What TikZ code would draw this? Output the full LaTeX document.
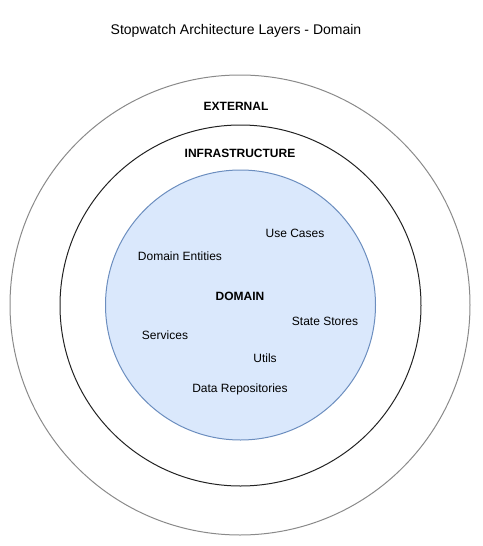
\documentclass[tikz,border=0pt]{standalone}
\usepackage{fontspec}
\setmainfont{Liberation Sans}
\definecolor{outerc}{HTML}{8A8A8A}
\definecolor{midc}{HTML}{222222}
\definecolor{innerd}{HTML}{6C8EBF}
\definecolor{innerf}{HTML}{DAE8FC}
\begin{document}
\begin{tikzpicture}[x=1pt,y=-1pt,
  lbl/.style={font=\fontsize{12}{14}\selectfont, inner sep=0pt, anchor=center},
  blbl/.style={font=\fontsize{12}{14}\selectfont\bfseries, inner sep=0pt, anchor=center},
  ring/.style={circle, inner sep=0pt, line width=1pt}]
\useasboundingbox (0,0) rectangle (482,546);
\node[ring, draw=outerc, minimum size=460] (external) at (240,305) {};
\node[ring, draw=midc, minimum size=361] (infra) at (240.5,305.5) {};
\node[ring, draw=innerd, fill=innerf, minimum size=270] (domain) at (240.5,305) {};
\node[font=\fontsize{14}{16}\selectfont, inner sep=0pt] (title) at (236,31) {Stopwatch Architecture Layers - Domain};
\node[blbl] (extl) at (236,106) {EXTERNAL};
\node[blbl] (infl) at (240,153) {INFRASTRUCTURE};
\node[blbl] (doml) at (240,296) {DOMAIN};
\node[lbl] (uc) at (295,233.5) {Use Cases};
\node[lbl] (de) at (180,256) {Domain Entities};
\node[lbl] (ss) at (325,321) {State Stores};
\node[lbl] (sv) at (165,335) {Services};
\node[lbl] (ut) at (265,358) {Utils};
\node[lbl] (dr) at (240,389.5) {Data Repositories};
\end{tikzpicture}
\end{document}
